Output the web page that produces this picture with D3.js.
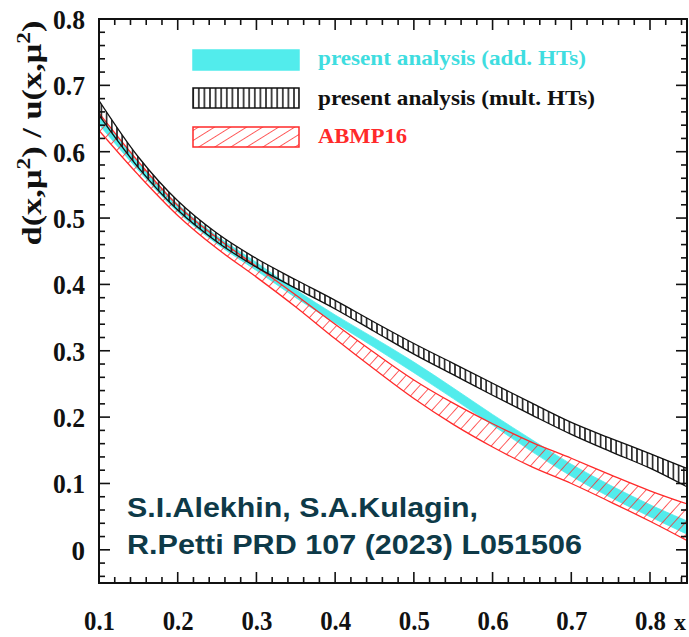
<!DOCTYPE html>
<html><head><meta charset="utf-8">
<script src="https://cdn.jsdelivr.net/npm/d3@7"></script>
<style>html,body{margin:0;padding:0;background:#fff;overflow:hidden}</style>
</head><body>
<svg id="c" width="689" height="637"></svg>
<script>
// ---- data ----
const xs       = [0.10, 0.15, 0.20, 0.25, 0.30, 0.35, 0.40, 0.45, 0.50, 0.55, 0.60, 0.65, 0.70, 0.75, 0.80, 0.85];
const addLow   = [0.641,0.572,0.509,0.461,0.421,0.380,0.342,0.305,0.267,0.228,0.188,0.148,0.111,0.079,0.050,0.022];
const addHigh  = [0.656,0.584,0.521,0.473,0.433,0.392,0.354,0.319,0.283,0.244,0.204,0.166,0.129,0.097,0.068,0.042];
const multLow  = [0.655,0.576,0.512,0.464,0.426,0.394,0.363,0.329,0.295,0.264,0.233,0.203,0.174,0.148,0.123,0.093];
const multHigh = [0.677,0.592,0.526,0.477,0.439,0.407,0.376,0.343,0.311,0.281,0.251,0.221,0.192,0.168,0.145,0.121];
const abmpLow  = [0.632,0.565,0.504,0.454,0.411,0.366,0.318,0.272,0.228,0.189,0.155,0.125,0.100,0.072,0.043,0.012];
const abmpHigh = [0.658,0.585,0.519,0.470,0.427,0.384,0.340,0.297,0.256,0.221,0.190,0.162,0.138,0.113,0.089,0.068];
const xTicks = [0.1,0.2,0.3,0.4,0.5,0.6,0.7,0.8];
const yTicks = [0,0.1,0.2,0.3,0.4,0.5,0.6,0.7,0.8];
const legendLabels = ["present analysis (add. HTs)","present analysis (mult. HTs)","ABMP16"];
const noteLines = ["S.I.Alekhin, S.A.Kulagin,","R.Petti PRD 107 (2023) L051506"];

// ---- layout ----
const L=99, T=19, R=687, B=583;
const svg=d3.select("#c");
const x=d3.scaleLinear().domain([0.1,0.847]).range([L,R]);
const y=d3.scaleLinear().domain([-0.05,0.8]).range([B,T]);
const serif='"Liberation Serif","Times New Roman",serif';
const cyan="#52ecec", cyanText="#3fdde0", red="#ff2a2a";

const defs=svg.append("defs");
defs.append("clipPath").attr("id","clip").append("rect").attr("x",L).attr("y",T).attr("width",R-L).attr("height",B-T);
function vpat(id,w){
  const p=defs.append("pattern").attr("id",id).attr("patternUnits","userSpaceOnUse").attr("width",w).attr("height",10);
  p.append("line").attr("x1",w/2).attr("x2",w/2).attr("y1",0).attr("y2",10).attr("stroke","#111").attr("stroke-width",1.5);
}
vpat("vhatch",5.2); vpat("vhatchL",5.6);
function dpat(id,s,a){
  const p=defs.append("pattern").attr("id",id).attr("patternUnits","userSpaceOnUse").attr("width",s).attr("height",s).attr("patternTransform",`rotate(${a})`);
  p.append("line").attr("x1",0).attr("x2",0).attr("y1",0).attr("y2",s).attr("stroke",red).attr("stroke-width",1.5);
}
dpat("dhatch",8.5,42); dpat("dhatchL",8.5,58);

function band(lo,hi){
  return d3.area().x((d,i)=>x(xs[i])).y0((d,i)=>y(lo[i])).y1((d,i)=>y(hi[i])).curve(d3.curveCatmullRom.alpha(0.5))(xs);
}
const g=svg.append("g").attr("clip-path","url(#clip)");
g.append("path").attr("d",band(addLow,addHigh)).attr("fill",cyan).attr("stroke",cyan).attr("stroke-width",0.8);
g.append("path").attr("d",band(abmpLow,abmpHigh)).attr("fill","url(#dhatch)").attr("stroke",red).attr("stroke-width",1.3);
g.append("path").attr("d",band(multLow,multHigh)).attr("fill","url(#vhatch)").attr("stroke","#111").attr("stroke-width",1.3);

// ---- frame and ticks ----
svg.append("rect").attr("x",L).attr("y",T).attr("width",R-L).attr("height",B-T).attr("fill","none").attr("stroke","#111").attr("stroke-width",2);
const xMinor=d3.range(0.1,0.8471,0.02);
const yMinor=d3.range(-0.04,0.8001,0.02);
const tk=svg.append("g").attr("stroke","#111").attr("stroke-width",1.6);
xMinor.forEach(v=>{
  const major=xTicks.some(t=>Math.abs(t-v)<1e-6); const len=major?11:6;
  tk.append("line").attr("x1",x(v)).attr("x2",x(v)).attr("y1",B).attr("y2",B-len);
  tk.append("line").attr("x1",x(v)).attr("x2",x(v)).attr("y1",T).attr("y2",T+len);
});
yMinor.forEach(v=>{
  const major=yTicks.some(t=>Math.abs(t-v)<1e-6); const len=major?11:6;
  tk.append("line").attr("y1",y(v)).attr("y2",y(v)).attr("x1",L).attr("x2",L+len);
  tk.append("line").attr("y1",y(v)).attr("y2",y(v)).attr("x1",R).attr("x2",R-len);
});
const xa=svg.append("g").attr("transform",`translate(0,${B})`).call(d3.axisBottom(x).tickValues(xTicks).tickFormat(d3.format(".1f")).tickSize(0).tickPadding(0));
xa.select(".domain").remove();
xa.selectAll("text").attr("y",47).attr("dy",0).attr("font-family",serif).attr("font-weight","bold").attr("font-size",27).attr("fill","#111")
  .attr("textLength",31).attr("lengthAdjust","spacingAndGlyphs");
const ya=svg.append("g").attr("transform",`translate(${L},0)`).call(d3.axisLeft(y).tickValues(yTicks).tickFormat(v=>v===0?"0":d3.format(".1f")(v)).tickSize(0).tickPadding(0));
ya.select(".domain").remove();
ya.selectAll("text").attr("x",-14).attr("dy","0.35em").attr("font-family",serif).attr("font-weight","bold").attr("font-size",27).attr("fill","#111")
  .each(function(d){ if(d!==0) d3.select(this).attr("textLength",32).attr("lengthAdjust","spacingAndGlyphs"); });

svg.append("text").attr("transform","translate(41,133) rotate(-90)").attr("text-anchor","middle")
  .attr("font-family",serif).attr("font-weight","bold").attr("font-size",28).attr("fill","#111")
  .attr("textLength",225).attr("lengthAdjust","spacingAndGlyphs")
  .html('d(x,μ<tspan dy="-11" font-size="19">2</tspan><tspan dy="11">) / u(x,μ</tspan><tspan dy="-11" font-size="19">2</tspan><tspan dy="11">)</tspan>');
svg.append("text").attr("x",674).attr("y",630).attr("font-family",serif).attr("font-weight","bold").attr("font-size",24).attr("fill","#111").text("x");

// ---- legend ----
const lg=svg.append("g");
const boxes=[{y:50,fill:cyan,stroke:cyan,col:cyanText,w:268},{y:88,fill:"url(#vhatchL)",stroke:"#111",col:"#111",w:277},{y:127,fill:"url(#dhatchL)",stroke:red,col:red,w:89}];
const baselines=[65,105,143];
boxes.forEach((b,i)=>{
  lg.append("rect").attr("x",193).attr("y",b.y).attr("width",106).attr("height",20).attr("fill",b.fill).attr("stroke",b.stroke).attr("stroke-width",1.5);
  lg.append("text").attr("x",318).attr("y",baselines[i]).attr("font-family",serif).attr("font-weight","bold").attr("font-size",21).attr("fill",b.col)
    .attr("textLength",b.w).attr("lengthAdjust","spacingAndGlyphs").text(legendLabels[i]);
});

// ---- note ----
const noteW=[351,455];
noteLines.forEach((t,i)=>{
  svg.append("text").attr("x",127).attr("y",517+i*37).attr("font-family",'"Liberation Sans",Arial,sans-serif').attr("font-weight","bold").attr("font-size",27).attr("fill","#0e3a48")
    .attr("textLength",noteW[i]).attr("lengthAdjust","spacingAndGlyphs").text(t);
});
</script>
</body></html>
